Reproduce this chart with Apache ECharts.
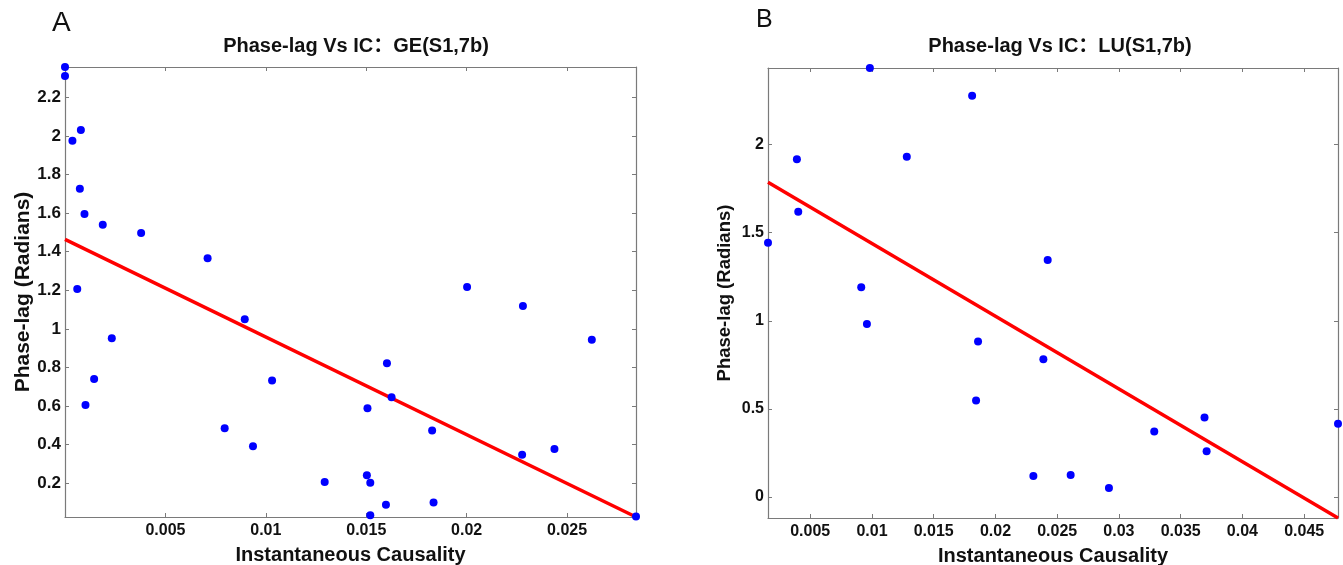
<!DOCTYPE html>
<html>
<head>
<meta charset="utf-8">
<script src="https://cdn.jsdelivr.net/npm/echarts@6/dist/echarts.min.js"></script>
<style>
html, body { margin: 0; padding: 0; background: #fff; }
#main { width: 1343px; height: 565px; }
</style>
</head>
<body>
<div id="main"></div>
<script>
// 面板A：GE(S1,7b) 散点  [x, y]
var pointsA = [
	[0.0000, 2.357], [0.0000, 2.31], [0.00037, 1.975], [0.00079, 2.03], [0.00074, 1.726],
	[0.00097, 1.595], [0.00188, 1.54], [0.00379, 1.497], [0.0071, 1.366], [0.00061, 1.207],
	[0.00233, 0.951], [0.00145, 0.74], [0.00102, 0.606], [0.00895, 1.05], [0.01031, 0.732],
	[0.00795, 0.485], [0.00936, 0.392], [0.01293, 0.207], [0.02002, 1.217], [0.0228, 1.119],
	[0.02623, 0.944], [0.01603, 0.822], [0.01626, 0.646], [0.01506, 0.589], [0.01828, 0.473],
	[0.02276, 0.347], [0.02437, 0.378], [0.01503, 0.241], [0.0152, 0.203], [0.01598, 0.088],
	[0.01835, 0.1], [0.0152, 0.034], [0.02843, 0.027]
];
var fitA = [[0, 1.464], [0.02843, 0.025]];		// 回归线A
var xRangeA = [0, 0.02843];
var yRangeA = [0.025, 2.357];
var xTicksA = [0.005, 0.01, 0.015, 0.02, 0.025];
var yTicksA = [0.2, 0.4, 0.6, 0.8, 1, 1.2, 1.4, 1.6, 1.8, 2, 2.2];

// 面板B：LU(S1,7b) 散点
var pointsB = [
	[0.00983, 2.434], [0.01811, 2.277], [0.00392, 1.916], [0.01282, 1.931], [0.00403, 1.619],
	[0.00158, 1.442], [0.00913, 1.19], [0.02423, 1.345], [0.00959, 0.982], [0.01859, 0.882],
	[0.01843, 0.548], [0.02388, 0.782], [0.03693, 0.451], [0.03286, 0.372], [0.0371, 0.259],
	[0.04774, 0.416], [0.02307, 0.119], [0.02609, 0.125], [0.02919, 0.051]
];
var fitB = [[0.00158, 1.786], [0.04774, -0.119]];	// 回归线B
var xRangeB = [0.00158, 0.04774];
var yRangeB = [-0.119, 2.434];
var xTicksB = [0.005, 0.01, 0.015, 0.02, 0.025, 0.03, 0.035, 0.04, 0.045];
var yTicksB = [0, 0.5, 1, 1.5, 2];

var FONT = 'Arial, "Liberation Sans", "Noto Sans CJK SC", sans-serif';
var AXIS_COLOR = '#7a7a7a';

// x轴（下方带标签，上方只画刻度）
function makeX(grid, range, ticks, pos, withLabel) {
	return {
		type: 'value', gridIndex: grid, position: pos,
		min: range[0], max: range[1],
		name: withLabel ? 'Instantaneous Causality' : '',
		nameLocation: 'middle', nameGap: 28,
		nameTextStyle: { fontFamily: FONT, fontWeight: 'bold', fontSize: 20, color: '#111' },
		axisLine: { show: true, onZero: false, lineStyle: { color: AXIS_COLOR, width: 1.2 } },
		axisTick: { show: true, inside: true, length: 4, customValues: ticks, lineStyle: { color: AXIS_COLOR } },
		axisLabel: { show: withLabel, customValues: ticks, margin: 6,
			fontFamily: FONT, fontWeight: 'bold', fontSize: 16, color: '#111' },
		splitLine: { show: false }
	};
}

// y轴（左侧带标签，右侧只画刻度）
function makeY(grid, range, ticks, pos, withLabel, gap, nameSize, labelSize) {
	return {
		type: 'value', gridIndex: grid, position: pos,
		min: range[0], max: range[1],
		name: withLabel ? 'Phase-lag (Radians)' : '',
		nameLocation: 'middle', nameGap: gap,
		nameTextStyle: { fontFamily: FONT, fontWeight: 'bold', fontSize: nameSize, color: '#111' },
		axisLine: { show: true, onZero: false, lineStyle: { color: AXIS_COLOR, width: 1.2 } },
		axisTick: { show: true, inside: true, length: 4, customValues: ticks, lineStyle: { color: AXIS_COLOR } },
		axisLabel: { show: withLabel, customValues: ticks, margin: 4,
			fontFamily: FONT, fontWeight: 'bold', fontSize: labelSize, color: '#111' },
		splitLine: { show: false }
	};
}

var chart = echarts.init(document.getElementById('main'));

chart.setOption({
	animation: false,
	backgroundColor: '#fff',
	title: [
		{ text: 'Phase-lag Vs IC：GE(S1,7b)', left: 351, top: 31, textAlign: 'center',
		  textStyle: { fontFamily: FONT, fontWeight: 'bold', fontSize: 20, color: '#111' } },
		{ text: 'Phase-lag Vs IC：LU(S1,7b)', left: 1055, top: 31, textAlign: 'center',
		  textStyle: { fontFamily: FONT, fontWeight: 'bold', fontSize: 20, color: '#111' } }
	],
	graphic: [
		{ type: 'text', left: 52, top: 9, style: { text: 'A', font: '28px ' + FONT, fill: '#111' } },
		{ type: 'text', left: 756, top: 8, style: { text: 'B', font: '25px ' + FONT, fill: '#111' } }
	],
	// 固定绘图区，不让坐标轴名称挤压网格
	grid: [
		{ left: 65, top: 67, width: 571, height: 450, outerBoundsMode: 'none' },
		{ left: 768, top: 68, width: 570, height: 450, outerBoundsMode: 'none' }
	],
	xAxis: [
		makeX(0, xRangeA, xTicksA, 'bottom', true),
		makeX(0, xRangeA, xTicksA, 'top', false),
		makeX(1, xRangeB, xTicksB, 'bottom', true),
		makeX(1, xRangeB, xTicksB, 'top', false)
	],
	yAxis: [
		makeY(0, yRangeA, yTicksA, 'left', true, 31, 21, 17),
		makeY(0, yRangeA, yTicksA, 'right', false, 0, 21, 17),
		makeY(1, yRangeB, yTicksB, 'left', true, 34, 18.5, 16),
		makeY(1, yRangeB, yTicksB, 'right', false, 0, 18.5, 16)
	],
	series: [
		{ type: 'line', xAxisIndex: 0, yAxisIndex: 0, data: fitA, showSymbol: false,
		  lineStyle: { color: '#ff0000', width: 3.5 }, z: 2 },
		{ type: 'scatter', xAxisIndex: 0, yAxisIndex: 0, data: pointsA, symbolSize: 8,
		  itemStyle: { color: '#0000ff', opacity: 1 }, z: 3 },
		{ type: 'line', xAxisIndex: 2, yAxisIndex: 2, data: fitB, showSymbol: false,
		  lineStyle: { color: '#ff0000', width: 3.5 }, z: 2 },
		{ type: 'scatter', xAxisIndex: 2, yAxisIndex: 2, data: pointsB, symbolSize: 8,
		  itemStyle: { color: '#0000ff', opacity: 1 }, z: 3 }
	]
});

window.addEventListener('resize', function () {
	chart.resize();
});
</script>
</body>
</html>
